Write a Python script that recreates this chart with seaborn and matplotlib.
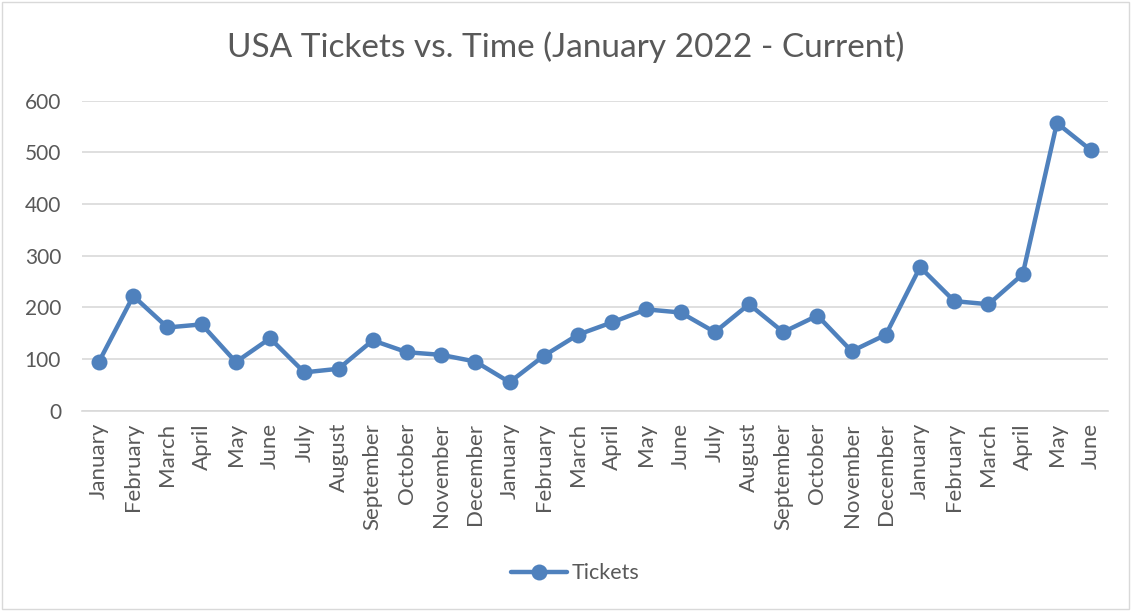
import pandas as pd
import matplotlib.pyplot as plt
import seaborn as sns

# months Jan 2022 - Jun 2024
months = ['January', 'February', 'March', 'April', 'May', 'June', 'July',
          'August', 'September', 'October', 'November', 'December',
          'January', 'February', 'March', 'April', 'May', 'June', 'July',
          'August', 'September', 'October', 'November', 'December',
          'January', 'February', 'March', 'April', 'May', 'June']
tickets = [95, 222, 161, 167, 94, 140, 74, 81, 136, 113, 108, 95,
           55, 106, 147, 171, 196, 190, 152, 206, 152, 184, 115, 147,
           278, 212, 206, 264, 557, 504]

df = pd.DataFrame({'idx': range(len(months)), 'Tickets': tickets})

sns.set_theme(style='white')
plt.rcParams['font.family'] = ['Lato', 'DejaVu Sans']
grey = '#595959'
blue = '#4F81BD'

fig = plt.figure(figsize=(11.32, 6.11), dpi=100)
ax = fig.add_axes([0.0724, 0.328, 0.9066, 0.507])

sns.lineplot(data=df, x='idx', y='Tickets', ax=ax, color=blue, lw=3.2,
             marker='o', markersize=11.5, markeredgewidth=0, label='Tickets')

ax.set_xlim(-0.5, len(months) - 0.5)
ax.set_ylim(0, 600)
ax.set_yticks(range(0, 601, 100))
ax.set_xticks(range(len(months)))
ax.set_xticklabels(months, rotation=90, fontsize=16, color=grey)
ax.tick_params(axis='y', labelsize=15, labelcolor=grey, length=0, pad=15)
ax.tick_params(axis='x', length=0, pad=9)
ax.yaxis.grid(True, color='#D9D9D9', lw=1.2)
ax.set_axisbelow(True)
for s in ['top', 'right', 'left']:
    ax.spines[s].set_visible(False)
ax.spines['bottom'].set_color('#D9D9D9')
ax.spines['bottom'].set_linewidth(1.2)
ax.set_xlabel('')
ax.set_ylabel('')

fig.suptitle('USA Tickets vs. Time (January 2022 - Current)', y=0.923,
             va='center', fontsize=24, color=grey)

ax.get_legend().remove()
h, l = ax.get_legend_handles_labels()
fig.legend(h, l, loc='center', bbox_to_anchor=(0.508, 0.062), frameon=False,
           fontsize=15.5, labelcolor=grey, handlelength=2.6, handletextpad=0.2)

# chart area border
fig.patches.append(plt.Rectangle((0.002, 0.003), 0.995, 0.994,
                                 transform=fig.transFigure, fill=False,
                                 edgecolor='#D9D9D9', lw=1))

fig.savefig('out.png', dpi=100)
